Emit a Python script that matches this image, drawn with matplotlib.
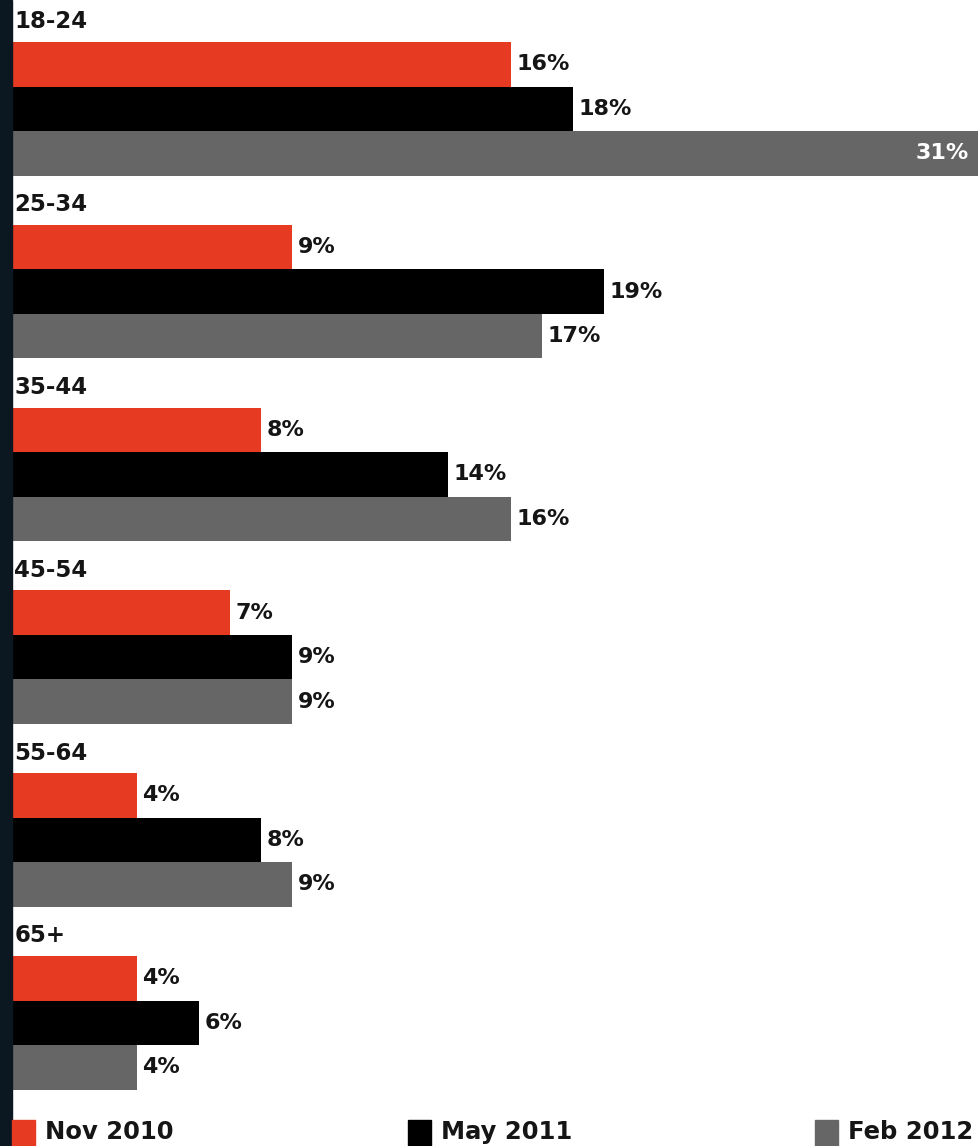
import matplotlib.pyplot as plt
from matplotlib.patches import Rectangle

ages = ['18-24', '25-34', '35-44', '45-54', '55-64', '65+']
nov_2010 = [16, 9, 8, 7, 4, 4]
may_2011 = [18, 19, 14, 9, 8, 6]
feb_2012 = [31, 17, 16, 9, 9, 4]
series_names = ['Nov 2010', 'May 2011', 'Feb 2012']
colors = ['#e63a22', '#000000', '#666666']

W, H = 980, 1146
fig = plt.figure(figsize=(W / 100, H / 100), dpi=100, facecolor='white')

# dark strip on the left edge
fig.patches.append(Rectangle((0, 0), 12 / W, 1, transform=fig.transFigure,
                             color='#0b1721', zorder=0))

x0 = 12
ax = fig.add_axes([x0 / W, 0, (W - x0) / W, 1])
px_per_pct = (978 - x0) / 31.0
ax.set_xlim(0, (W - x0) / px_per_pct)
ax.set_ylim(H, 0)
ax.axis('off')

font = 'DejaVu Sans'
bar_h = 44.5
pitch = 182.8
top0 = 42

series = [nov_2010, may_2011, feb_2012]
for i, age in enumerate(ages):
    gtop = top0 + i * pitch
    ax.text(0.07, gtop - 20, age, fontsize=16.5, fontweight='bold', family=font,
            va='center', ha='left', color='#151515')
    for j, vals in enumerate(series):
        yc = gtop + j * bar_h + bar_h / 2
        v = vals[i]
        ax.barh(yc, v, height=bar_h, color=colors[j], left=0)
        if v >= 30:
            ax.text(v - 0.3, yc, f'{v}%', fontsize=16, fontweight='bold',
                    family=font, va='center', ha='right', color='white')
        else:
            ax.text(v + 0.18, yc, f'{v}%', fontsize=16, fontweight='bold',
                    family=font, va='center', ha='left', color='#151515')

# legend row along the bottom
leg_x = [12, 408, 815]
for name, c, lx in zip(series_names, colors, leg_x):
    fig.patches.append(Rectangle((lx / W, 0), 23 / W, 26 / H,
                                 transform=fig.transFigure, color=c))
    fig.text((lx + 33) / W, 14 / H, name, fontsize=17.5, fontweight='bold',
             family=font, va='center', ha='left', color='#151515')

fig.savefig('out.png', dpi=100, facecolor='white')
